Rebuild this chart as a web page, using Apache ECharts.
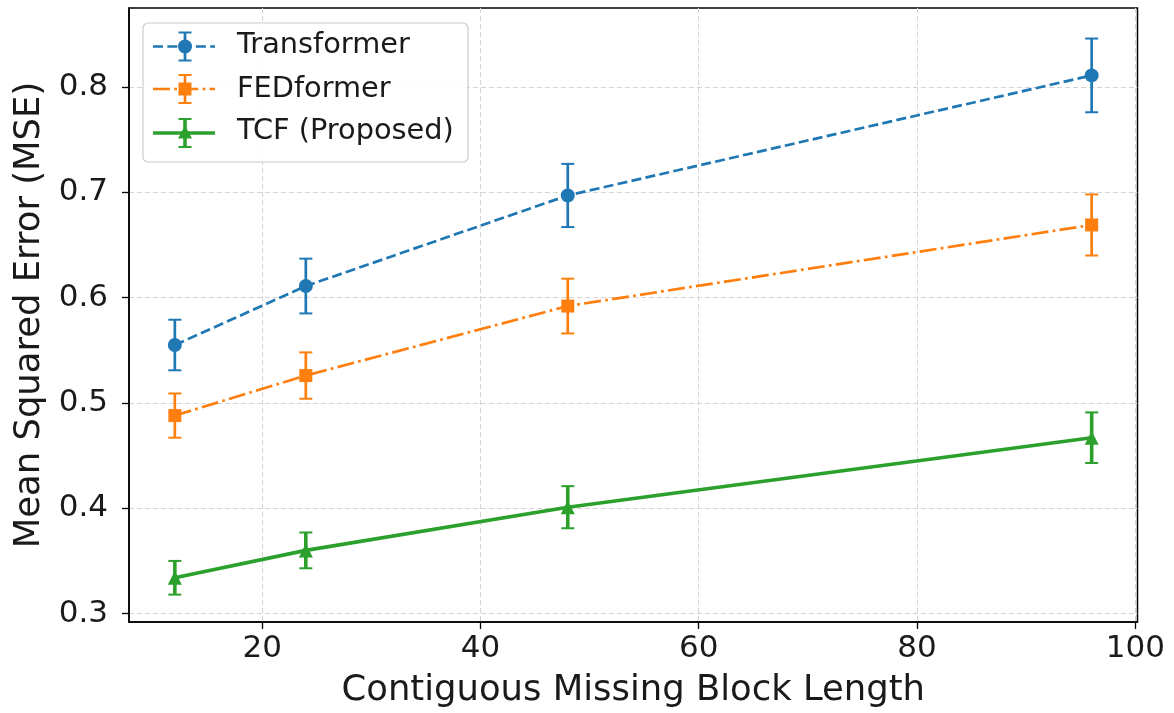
<!DOCTYPE html>
<html>
<head>
<meta charset="utf-8">
<script src="https://cdn.jsdelivr.net/npm/echarts@6/dist/echarts.min.js"></script>
<style>
html,body{margin:0;padding:0;background:#fff;}
#chart{width:1174px;height:713px;}
</style>
</head>
<body>
<div id="chart"></div>
<script>
// ---- data ----
const blockLengths = [12, 24, 48, 96];
const transformerMSE = [0.555, 0.611, 0.697, 0.811];
const transformerErr = [0.024, 0.026, 0.030, 0.035];
const fedformerMSE = [0.488, 0.526, 0.592, 0.669];
const fedformerErr = [0.021, 0.022, 0.026, 0.029];
const tcfMSE = [0.334, 0.360, 0.401, 0.467];
const tcfErr = [0.016, 0.017, 0.020, 0.024];
const xTicks = [20, 40, 60, 80, 100];
const yTicks = [0.3, 0.4, 0.5, 0.6, 0.7, 0.8];
const seriesNames = ['Transformer', 'FEDformer', 'TCF (Proposed)'];

const FONT = 'DejaVu Sans';
const C = ['#1f77b4', '#ff7f0e', '#2ca02c'];
const LW = [2.7, 2.7, 3.6];
const DASH = [[10, 4.3], [17, 4.3, 2.7, 4.3], 'solid'];
const SYM = ['circle', 'rect', 'triangle'];
const SYMSIZE = [14, 13, 14];

function pts(ys) { return blockLengths.map((x, i) => [x, ys[i]]); }
function errData(ys, es) { return blockLengths.map((x, i) => [x, ys[i] - es[i], ys[i] + es[i]]); }

function errRender(color, lw) {
  return function (params, api) {
    const x = api.value(0), lo = api.value(1), hi = api.value(2);
    const a = api.coord([x, lo]), b = api.coord([x, hi]);
    const cw = 6.5;
    const st = { stroke: color, lineWidth: lw };
    return {
      type: 'group',
      children: [
        { type: 'line', shape: { x1: a[0], y1: a[1], x2: b[0], y2: b[1] }, style: st },
        { type: 'line', shape: { x1: a[0] - cw, y1: a[1], x2: a[0] + cw, y2: a[1] }, style: { stroke: color, lineWidth: 2 } },
        { type: 'line', shape: { x1: b[0] - cw, y1: b[1], x2: b[0] + cw, y2: b[1] }, style: { stroke: color, lineWidth: 2 } }
      ]
    };
  };
}

const means = [transformerMSE, fedformerMSE, tcfMSE];
const errs = [transformerErr, fedformerErr, tcfErr];

const series = [];
for (let k = 0; k < 3; k++) {
  series.push({
    name: seriesNames[k] + ' err',
    type: 'custom',
    renderItem: errRender(C[k], LW[k]),
    data: errData(means[k], errs[k]),
    encode: { x: 0, y: [1, 2] },
    z: 3,
    silent: true
  });
  series.push({
    name: seriesNames[k],
    type: 'line',
    data: pts(means[k]),
    symbol: SYM[k],
    symbolSize: SYMSIZE[k],
    showSymbol: true,
    lineStyle: { color: C[k], width: LW[k], type: DASH[k] },
    itemStyle: { color: C[k], borderWidth: 0 },
    z: 4,
    animation: false
  });
}

// ---- legend drawn as graphic ----
const legX0 = 143, legY0 = 23, legW = 325, legH = 139;
const rowY = [46.5, 89, 133];
const textY = [45.5, 89.5, 132];
const hx1 = 153, hx2 = 215, hxc = 185;
const legendChildren = [{
  type: 'rect',
  shape: { x: legX0, y: legY0, width: legW, height: legH, r: 5 },
  style: { fill: 'rgba(255,255,255,0.85)', stroke: '#cccccc', lineWidth: 1.2 },
  z: 100
}];
for (let k = 0; k < 3; k++) {
  const y = rowY[k];
  legendChildren.push({
    type: 'line', shape: { x1: hx1, y1: y, x2: hx2, y2: y },
    style: { stroke: C[k], lineWidth: LW[k], lineDash: DASH[k] === 'solid' ? null : DASH[k] },
    z: 101
  });
  legendChildren.push({
    type: 'line', shape: { x1: hxc, y1: y - 14, x2: hxc, y2: y + 14 },
    style: { stroke: C[k], lineWidth: LW[k] }, z: 102
  });
  legendChildren.push({
    type: 'line', shape: { x1: hxc - 6.5, y1: y - 14, x2: hxc + 6.5, y2: y - 14 },
    style: { stroke: C[k], lineWidth: 2 }, z: 102
  });
  legendChildren.push({
    type: 'line', shape: { x1: hxc - 6.5, y1: y + 14, x2: hxc + 6.5, y2: y + 14 },
    style: { stroke: C[k], lineWidth: 2 }, z: 102
  });
  let mk;
  if (k === 0) mk = { type: 'circle', shape: { cx: hxc, cy: y, r: 7 }, style: { fill: C[k] }, z: 103 };
  else if (k === 1) mk = { type: 'rect', shape: { x: hxc - 6.5, y: y - 6.5, width: 13, height: 13 }, style: { fill: C[k] }, z: 103 };
  else mk = { type: 'polygon', shape: { points: [[hxc, y - 7.5], [hxc - 7, y + 5.5], [hxc + 7, y + 5.5]] }, style: { fill: C[k] }, z: 103 };
  legendChildren.push(mk);
  legendChildren.push({
    type: 'text', x: 237, y: textY[k],
    style: { text: seriesNames[k], font: '28.8px "' + FONT + '"', fill: '#1a1a1a', verticalAlign: 'middle', align: 'left' },
    z: 103
  });
}

const option = {
  backgroundColor: '#ffffff',
  animation: false,
  textStyle: { fontFamily: FONT },
  grid: { left: 129, right: 36.5, top: 8, bottom: 90, show: true, borderColor: '#000', borderWidth: 1.5, containLabel: false },
  xAxis: {
    type: 'value', min: 7.8, max: 100.2,
    name: 'Contiguous Missing Block Length', nameLocation: 'middle', nameGap: 51,
    nameTextStyle: { fontSize: 35.4, color: '#1a1a1a', fontFamily: FONT },
    axisLine: { show: true, onZero: false, lineStyle: { color: '#000', width: 1.5 } },
    axisTick: { show: true, length: 7, lineStyle: { color: '#000', width: 1.3 }, customValues: xTicks },
    axisLabel: { fontSize: 31, color: '#1a1a1a', margin: 11, fontFamily: FONT, customValues: xTicks, formatter: v => String(v) },
    splitLine: { show: true, lineStyle: { color: '#d4d4d4', width: 1, type: [5, 3] } }
  },
  yAxis: {
    type: 'value', min: 0.292, max: 0.875,
    name: 'Mean Squared Error (MSE)', nameLocation: 'middle', nameGap: 81, nameRotate: 90,
    nameTextStyle: { fontSize: 35.4, color: '#1a1a1a', fontFamily: FONT },
    axisLine: { show: true, onZero: false, lineStyle: { color: '#000', width: 1.5 } },
    axisTick: { show: true, length: 7, lineStyle: { color: '#000', width: 1.3 }, customValues: yTicks },
    axisLabel: { fontSize: 31, color: '#1a1a1a', margin: 21, fontFamily: FONT, customValues: yTicks, formatter: v => v.toFixed(1) },
    splitLine: { show: true, lineStyle: { color: '#d4d4d4', width: 1, type: [5, 3] } }
  },
  series: series,
  graphic: [{ type: 'group', children: legendChildren }]
};

const chart = echarts.init(document.getElementById('chart'), null, { renderer: 'canvas' });
chart.setOption(option);
</script>
</body>
</html>
